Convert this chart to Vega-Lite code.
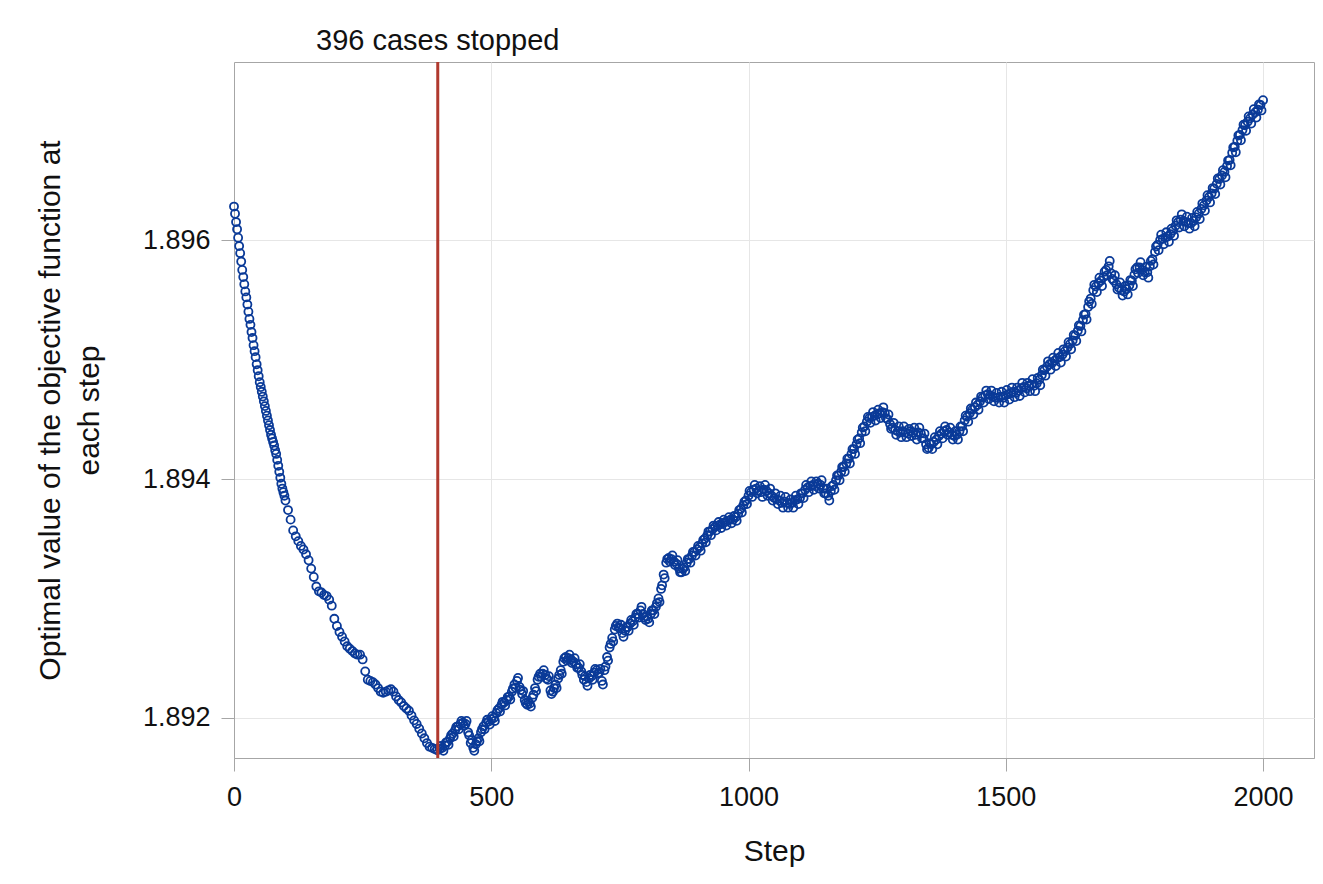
{
  "$schema": "https://vega.github.io/schema/vega-lite/v6.json",
  "autosize": {"type": "none"},
  "padding": {"left": 234, "top": 62, "right": 9, "bottom": 126},
  "width": 1080,
  "height": 696,
  "background": "white",
  "config": {
    "font": "Liberation Sans",
    "view": {"stroke": "#a6a6a6", "strokeWidth": 1},
    "axis": {
      "labelFont": "Liberation Sans",
      "titleFont": "Liberation Sans",
      "labelFontSize": 27,
      "titleFontSize": 30,
      "titleFontWeight": "normal",
      "labelColor": "#111111",
      "titleColor": "#111111",
      "domainColor": "#a6a6a6",
      "tickColor": "#a6a6a6",
      "tickSize": 13,
      "gridColor": "#e6e6e6",
      "gridWidth": 1
    }
  },
  "datasets": {
    "steps": [
      {"s":0,"v":1.89628},{"s":2,"v":1.89622},{"s":4,"v":1.89615},{"s":6,"v":1.89609},{"s":8,"v":1.89602},{"s":10,"v":1.89595},{"s":12,"v":1.89589},{"s":14,"v":1.89582},{"s":16,"v":1.89575},{"s":18,"v":1.89569},
      {"s":20,"v":1.89563},{"s":22,"v":1.89557},{"s":24,"v":1.89552},{"s":26,"v":1.89546},{"s":28,"v":1.8954},{"s":30,"v":1.89534},{"s":32,"v":1.89529},{"s":34,"v":1.89523},{"s":36,"v":1.89518},{"s":38,"v":1.89512},
      {"s":40,"v":1.89507},{"s":42,"v":1.89502},{"s":44,"v":1.89496},{"s":46,"v":1.89491},{"s":48,"v":1.89486},{"s":50,"v":1.89481},{"s":52,"v":1.89477},{"s":54,"v":1.89473},{"s":56,"v":1.89469},{"s":58,"v":1.89465},
      {"s":60,"v":1.89461},{"s":62,"v":1.89457},{"s":64,"v":1.89453},{"s":66,"v":1.89449},{"s":68,"v":1.89445},{"s":70,"v":1.89441},{"s":72,"v":1.89437},{"s":74,"v":1.89434},{"s":76,"v":1.89431},{"s":78,"v":1.89428},
      {"s":80,"v":1.89424},{"s":82,"v":1.89421},{"s":84,"v":1.89416},{"s":86,"v":1.89411},{"s":88,"v":1.89406},{"s":90,"v":1.89401},{"s":92,"v":1.89396},{"s":94,"v":1.89392},{"s":96,"v":1.89389},{"s":98,"v":1.89386},
      {"s":100,"v":1.89382},{"s":105,"v":1.89374},{"s":110,"v":1.89366},{"s":115,"v":1.89357},{"s":120,"v":1.89352},{"s":125,"v":1.89348},{"s":130,"v":1.89344},{"s":135,"v":1.89341},{"s":140,"v":1.89337},{"s":145,"v":1.89332},
      {"s":150,"v":1.89325},{"s":155,"v":1.89318},{"s":160,"v":1.8931},{"s":165,"v":1.89306},{"s":170,"v":1.89305},{"s":175,"v":1.89303},{"s":180,"v":1.89302},{"s":185,"v":1.89299},{"s":190,"v":1.89294},{"s":195,"v":1.89283},
      {"s":200,"v":1.89277},{"s":205,"v":1.89272},{"s":210,"v":1.89268},{"s":215,"v":1.89264},{"s":220,"v":1.8926},{"s":225,"v":1.89258},{"s":230,"v":1.89256},{"s":235,"v":1.89254},{"s":240,"v":1.89253},{"s":245,"v":1.89253},
      {"s":250,"v":1.89249},{"s":255,"v":1.89239},{"s":260,"v":1.89232},{"s":265,"v":1.89231},{"s":270,"v":1.8923},{"s":275,"v":1.89228},{"s":280,"v":1.89225},{"s":285,"v":1.89222},{"s":290,"v":1.89221},{"s":295,"v":1.89222},
      {"s":300,"v":1.89223},{"s":305,"v":1.89224},{"s":310,"v":1.89222},{"s":315,"v":1.89218},{"s":320,"v":1.89215},{"s":325,"v":1.89213},{"s":330,"v":1.8921},{"s":335,"v":1.89208},{"s":340,"v":1.89206},{"s":345,"v":1.89202},
      {"s":350,"v":1.89198},{"s":355,"v":1.89195},{"s":360,"v":1.89191},{"s":365,"v":1.89187},{"s":370,"v":1.89183},{"s":375,"v":1.89179},{"s":380,"v":1.89176},{"s":385,"v":1.89175},{"s":390,"v":1.89174},{"s":395,"v":1.89173},
      {"s":400,"v":1.89174},{"s":405,"v":1.89175},{"s":410,"v":1.89177},{"s":415,"v":1.8918},{"s":420,"v":1.89183},{"s":425,"v":1.89187},{"s":430,"v":1.8919},{"s":435,"v":1.89193},{"s":440,"v":1.89195},{"s":445,"v":1.89196},
      {"s":450,"v":1.89195},{"s":455,"v":1.89188},{"s":460,"v":1.89179},{"s":465,"v":1.89175},{"s":470,"v":1.89178},{"s":475,"v":1.89183},{"s":480,"v":1.89188},{"s":485,"v":1.89193},{"s":490,"v":1.89196},{"s":495,"v":1.89197},
      {"s":500,"v":1.89199},{"s":505,"v":1.892},{"s":510,"v":1.89204},{"s":515,"v":1.89208},{"s":520,"v":1.89211},{"s":525,"v":1.89213},{"s":530,"v":1.89215},{"s":535,"v":1.89218},{"s":540,"v":1.89222},{"s":545,"v":1.89228},
      {"s":550,"v":1.89231},{"s":555,"v":1.89226},{"s":560,"v":1.8922},{"s":565,"v":1.89215},{"s":570,"v":1.89211},{"s":575,"v":1.89212},{"s":580,"v":1.89217},{"s":585,"v":1.89225},{"s":590,"v":1.89232},{"s":595,"v":1.89237},
      {"s":600,"v":1.89237},{"s":605,"v":1.89236},{"s":610,"v":1.89232},{"s":615,"v":1.89223},{"s":620,"v":1.89222},{"s":625,"v":1.89228},{"s":630,"v":1.89233},{"s":635,"v":1.8924},{"s":640,"v":1.89247},{"s":645,"v":1.89251},
      {"s":650,"v":1.8925},{"s":655,"v":1.89249},{"s":660,"v":1.89247},{"s":665,"v":1.89245},{"s":670,"v":1.89242},{"s":675,"v":1.89239},{"s":680,"v":1.89232},{"s":685,"v":1.8923},{"s":690,"v":1.89233},{"s":695,"v":1.89235},
      {"s":700,"v":1.89238},{"s":705,"v":1.8924},{"s":710,"v":1.89238},{"s":715,"v":1.89231},{"s":720,"v":1.8924},{"s":725,"v":1.89251},{"s":730,"v":1.89259},{"s":735,"v":1.89267},{"s":740,"v":1.89274},{"s":745,"v":1.89279},
      {"s":750,"v":1.89275},{"s":755,"v":1.89271},{"s":760,"v":1.89273},{"s":765,"v":1.89276},{"s":770,"v":1.89279},{"s":775,"v":1.89281},{"s":780,"v":1.89284},{"s":785,"v":1.89287},{"s":790,"v":1.8929},{"s":795,"v":1.89287},
      {"s":800,"v":1.89282},{"s":805,"v":1.89283},{"s":810,"v":1.89287},{"s":815,"v":1.8929},{"s":820,"v":1.89293},{"s":825,"v":1.893},{"s":830,"v":1.89308},{"s":835,"v":1.8932},{"s":840,"v":1.8933},{"s":845,"v":1.89334},
      {"s":850,"v":1.89333},{"s":855,"v":1.89331},{"s":860,"v":1.89329},{"s":865,"v":1.89325},{"s":870,"v":1.89322},{"s":875,"v":1.89326},{"s":880,"v":1.8933},{"s":885,"v":1.89333},{"s":890,"v":1.89336},{"s":895,"v":1.89339},
      {"s":900,"v":1.89341},{"s":905,"v":1.89343},{"s":910,"v":1.89346},{"s":915,"v":1.8935},{"s":920,"v":1.89353},{"s":925,"v":1.89356},{"s":930,"v":1.89358},{"s":935,"v":1.8936},{"s":940,"v":1.89361},{"s":945,"v":1.89362},
      {"s":950,"v":1.89363},{"s":955,"v":1.89364},{"s":960,"v":1.89365},{"s":965,"v":1.89366},{"s":970,"v":1.89366},{"s":975,"v":1.89368},{"s":980,"v":1.89371},{"s":985,"v":1.89375},{"s":990,"v":1.89378},{"s":995,"v":1.89382},
      {"s":1000,"v":1.89386},{"s":1005,"v":1.89389},{"s":1010,"v":1.89391},{"s":1015,"v":1.89392},{"s":1020,"v":1.8939},{"s":1025,"v":1.89389},{"s":1030,"v":1.89391},{"s":1035,"v":1.8939},{"s":1040,"v":1.89388},{"s":1045,"v":1.89386},
      {"s":1050,"v":1.89384},{"s":1055,"v":1.89383},{"s":1060,"v":1.89382},{"s":1065,"v":1.8938},{"s":1070,"v":1.89381},{"s":1075,"v":1.8938},{"s":1080,"v":1.89379},{"s":1085,"v":1.8938},{"s":1090,"v":1.89382},{"s":1095,"v":1.89383},
      {"s":1100,"v":1.89384},{"s":1105,"v":1.89388},{"s":1110,"v":1.89391},{"s":1115,"v":1.89393},{"s":1120,"v":1.89394},{"s":1125,"v":1.89395},{"s":1130,"v":1.89394},{"s":1135,"v":1.89396},{"s":1140,"v":1.89395},{"s":1145,"v":1.89392},
      {"s":1150,"v":1.89388},{"s":1155,"v":1.89386},{"s":1160,"v":1.8939},{"s":1165,"v":1.89395},{"s":1170,"v":1.89399},{"s":1175,"v":1.89403},{"s":1180,"v":1.89406},{"s":1185,"v":1.8941},{"s":1190,"v":1.89413},{"s":1195,"v":1.89417},
      {"s":1200,"v":1.89421},{"s":1205,"v":1.89425},{"s":1210,"v":1.89429},{"s":1215,"v":1.89434},{"s":1220,"v":1.89439},{"s":1225,"v":1.89444},{"s":1230,"v":1.89448},{"s":1235,"v":1.89451},{"s":1240,"v":1.89452},{"s":1245,"v":1.89453},
      {"s":1250,"v":1.89454},{"s":1255,"v":1.89455},{"s":1260,"v":1.89456},{"s":1265,"v":1.89455},{"s":1270,"v":1.8945},{"s":1275,"v":1.89446},{"s":1280,"v":1.89443},{"s":1285,"v":1.89441},{"s":1290,"v":1.8944},{"s":1295,"v":1.89439},
      {"s":1300,"v":1.8944},{"s":1305,"v":1.89439},{"s":1310,"v":1.89438},{"s":1315,"v":1.8944},{"s":1320,"v":1.89439},{"s":1325,"v":1.89437},{"s":1330,"v":1.89439},{"s":1335,"v":1.89438},{"s":1340,"v":1.89434},{"s":1345,"v":1.89429},
      {"s":1350,"v":1.89426},{"s":1355,"v":1.89429},{"s":1360,"v":1.89431},{"s":1365,"v":1.89433},{"s":1370,"v":1.89436},{"s":1375,"v":1.89438},{"s":1380,"v":1.8944},{"s":1385,"v":1.89441},{"s":1390,"v":1.89439},{"s":1395,"v":1.89437},
      {"s":1400,"v":1.89436},{"s":1405,"v":1.89437},{"s":1410,"v":1.8944},{"s":1415,"v":1.89444},{"s":1420,"v":1.89449},{"s":1425,"v":1.89452},{"s":1430,"v":1.89455},{"s":1435,"v":1.89458},{"s":1440,"v":1.8946},{"s":1445,"v":1.89462},
      {"s":1450,"v":1.89465},{"s":1455,"v":1.89468},{"s":1460,"v":1.8947},{"s":1465,"v":1.89471},{"s":1470,"v":1.8947},{"s":1475,"v":1.89469},{"s":1480,"v":1.89468},{"s":1485,"v":1.89468},{"s":1490,"v":1.89469},{"s":1495,"v":1.89468},
      {"s":1500,"v":1.8947},{"s":1505,"v":1.89471},{"s":1510,"v":1.89472},{"s":1515,"v":1.89473},{"s":1520,"v":1.89472},{"s":1525,"v":1.89474},{"s":1530,"v":1.89476},{"s":1535,"v":1.89477},{"s":1540,"v":1.89476},{"s":1545,"v":1.89478},
      {"s":1550,"v":1.89479},{"s":1555,"v":1.89478},{"s":1560,"v":1.8948},{"s":1565,"v":1.89483},{"s":1570,"v":1.89487},{"s":1575,"v":1.89491},{"s":1580,"v":1.89494},{"s":1585,"v":1.89496},{"s":1590,"v":1.89497},{"s":1595,"v":1.89499},
      {"s":1600,"v":1.89501},{"s":1605,"v":1.89502},{"s":1610,"v":1.89504},{"s":1615,"v":1.89507},{"s":1620,"v":1.8951},{"s":1625,"v":1.89513},{"s":1630,"v":1.89516},{"s":1635,"v":1.8952},{"s":1640,"v":1.89524},{"s":1645,"v":1.89528},
      {"s":1650,"v":1.89533},{"s":1655,"v":1.89538},{"s":1660,"v":1.89544},{"s":1665,"v":1.89551},{"s":1670,"v":1.89558},{"s":1675,"v":1.89561},{"s":1680,"v":1.89564},{"s":1685,"v":1.89566},{"s":1690,"v":1.89569},{"s":1695,"v":1.89575},
      {"s":1700,"v":1.89578},{"s":1705,"v":1.89572},{"s":1710,"v":1.89566},{"s":1715,"v":1.89563},{"s":1720,"v":1.8956},{"s":1725,"v":1.89558},{"s":1730,"v":1.89557},{"s":1735,"v":1.89559},{"s":1740,"v":1.89562},{"s":1745,"v":1.89566},
      {"s":1750,"v":1.89571},{"s":1755,"v":1.89577},{"s":1760,"v":1.89577},{"s":1765,"v":1.89575},{"s":1770,"v":1.89573},{"s":1775,"v":1.89573},{"s":1780,"v":1.89578},{"s":1785,"v":1.89584},{"s":1790,"v":1.8959},{"s":1795,"v":1.89596},
      {"s":1800,"v":1.896},{"s":1805,"v":1.89601},{"s":1810,"v":1.89602},{"s":1815,"v":1.89603},{"s":1820,"v":1.89605},{"s":1825,"v":1.89608},{"s":1830,"v":1.89612},{"s":1835,"v":1.89615},{"s":1840,"v":1.89617},{"s":1845,"v":1.89616},
      {"s":1850,"v":1.89615},{"s":1855,"v":1.89614},{"s":1860,"v":1.89614},{"s":1865,"v":1.89616},{"s":1870,"v":1.89619},{"s":1875,"v":1.89622},{"s":1880,"v":1.89626},{"s":1885,"v":1.89629},{"s":1890,"v":1.89633},{"s":1895,"v":1.89636},
      {"s":1900,"v":1.89639},{"s":1905,"v":1.89643},{"s":1910,"v":1.89647},{"s":1915,"v":1.89651},{"s":1920,"v":1.89654},{"s":1925,"v":1.89657},{"s":1930,"v":1.89662},{"s":1935,"v":1.89667},{"s":1940,"v":1.89673},{"s":1945,"v":1.89678},
      {"s":1950,"v":1.89683},{"s":1955,"v":1.89688},{"s":1960,"v":1.89692},{"s":1965,"v":1.89696},{"s":1970,"v":1.89699},{"s":1975,"v":1.89702},{"s":1980,"v":1.89705},{"s":1985,"v":1.89707},{"s":1990,"v":1.89709},{"s":1995,"v":1.89713},
      {"s":2000,"v":1.89717},
      {"s":402,"v":1.891765},{"s":407,"v":1.891725},{"s":412,"v":1.891795},{"s":417,"v":1.891775},{"s":422,"v":1.891855},{"s":427,"v":1.891845},{"s":432,"v":1.891925},{"s":437,"v":1.891905},{"s":442,"v":1.891975},{"s":447,"v":1.891935},
      {"s":452,"v":1.891975},{"s":457,"v":1.891855},{"s":462,"v":1.891815},{"s":467,"v":1.891725},{"s":472,"v":1.891805},{"s":477,"v":1.891805},{"s":482,"v":1.891905},{"s":487,"v":1.891905},{"s":492,"v":1.891985},{"s":497,"v":1.891945},
      {"s":502,"v":1.892015},{"s":507,"v":1.891975},{"s":512,"v":1.892065},{"s":517,"v":1.892055},{"s":522,"v":1.892135},{"s":527,"v":1.892105},{"s":532,"v":1.892175},{"s":537,"v":1.892155},{"s":542,"v":1.892245},{"s":547,"v":1.892255},
      {"s":552,"v":1.892335},{"s":557,"v":1.892235},{"s":562,"v":1.892225},{"s":567,"v":1.892125},{"s":572,"v":1.892135},{"s":577,"v":1.892095},{"s":582,"v":1.892195},{"s":587,"v":1.892225},{"s":592,"v":1.892345},{"s":597,"v":1.892345},
      {"s":602,"v":1.8924},{"s":607,"v":1.89233},{"s":612,"v":1.89235},{"s":617,"v":1.8922},{"s":622,"v":1.89225},{"s":627,"v":1.89225},{"s":632,"v":1.89236},{"s":637,"v":1.89237},{"s":642,"v":1.8925},{"s":647,"v":1.89248},
      {"s":652,"v":1.89253},{"s":657,"v":1.89246},{"s":662,"v":1.8925},{"s":667,"v":1.89242},{"s":672,"v":1.89245},{"s":677,"v":1.89236},{"s":682,"v":1.89235},{"s":687,"v":1.89227},{"s":692,"v":1.89236},{"s":697,"v":1.89232},
      {"s":702,"v":1.89241},{"s":707,"v":1.89237},{"s":712,"v":1.89241},{"s":717,"v":1.89228},{"s":722,"v":1.89243},{"s":727,"v":1.89248},{"s":732,"v":1.89262},{"s":737,"v":1.89264},{"s":742,"v":1.89277},{"s":747,"v":1.89276},
      {"s":752,"v":1.89278},{"s":757,"v":1.89268},{"s":762,"v":1.89276},{"s":767,"v":1.89273},{"s":772,"v":1.89282},{"s":777,"v":1.89278},{"s":782,"v":1.89287},{"s":787,"v":1.89284},{"s":792,"v":1.89293},{"s":797,"v":1.89284},
      {"s":802,"v":1.89285},{"s":807,"v":1.8928},{"s":812,"v":1.8929},{"s":817,"v":1.89287},{"s":822,"v":1.89296},{"s":827,"v":1.89297},{"s":832,"v":1.89311},{"s":837,"v":1.89317},{"s":842,"v":1.89333},{"s":847,"v":1.89331},
      {"s":852,"v":1.89336},{"s":857,"v":1.89328},{"s":862,"v":1.89332},{"s":867,"v":1.89322},{"s":872,"v":1.89325},{"s":877,"v":1.89323},{"s":882,"v":1.89333},{"s":887,"v":1.8933},{"s":892,"v":1.89339},{"s":897,"v":1.89336},
      {"s":902,"v":1.89344},{"s":907,"v":1.8934},{"s":912,"v":1.89349},{"s":917,"v":1.89347},{"s":922,"v":1.89356},{"s":927,"v":1.89353},{"s":932,"v":1.89361},{"s":937,"v":1.89357},{"s":942,"v":1.89364},{"s":947,"v":1.89359},
      {"s":952,"v":1.89366},{"s":957,"v":1.89361},{"s":962,"v":1.89368},{"s":967,"v":1.89363},{"s":972,"v":1.89369},{"s":977,"v":1.89365},{"s":982,"v":1.89374},{"s":987,"v":1.89372},{"s":992,"v":1.89381},{"s":997,"v":1.89379},
      {"s":1002,"v":1.8939},{"s":1007,"v":1.89385},{"s":1012,"v":1.89395},{"s":1017,"v":1.89388},{"s":1022,"v":1.89394},{"s":1027,"v":1.89385},{"s":1032,"v":1.89395},{"s":1037,"v":1.89386},{"s":1042,"v":1.89392},{"s":1047,"v":1.89382},
      {"s":1052,"v":1.89388},{"s":1057,"v":1.89379},{"s":1062,"v":1.89386},{"s":1067,"v":1.89376},{"s":1072,"v":1.89385},{"s":1077,"v":1.89376},{"s":1082,"v":1.89383},{"s":1087,"v":1.89376},{"s":1092,"v":1.89386},{"s":1097,"v":1.89379},
      {"s":1102,"v":1.89388},{"s":1107,"v":1.89384},{"s":1112,"v":1.89395},{"s":1117,"v":1.89389},{"s":1122,"v":1.89398},{"s":1127,"v":1.89391},{"s":1132,"v":1.89398},{"s":1137,"v":1.89392},{"s":1142,"v":1.89399},{"s":1147,"v":1.89388},
      {"s":1152,"v":1.89392},{"s":1157,"v":1.89382},{"s":1162,"v":1.89394},{"s":1167,"v":1.89391},{"s":1172,"v":1.89403},{"s":1177,"v":1.89399},{"s":1182,"v":1.8941},{"s":1187,"v":1.89406},{"s":1192,"v":1.89417},{"s":1197,"v":1.89413},
      {"s":1202,"v":1.89425},{"s":1207,"v":1.89421},{"s":1212,"v":1.89433},{"s":1217,"v":1.8943},{"s":1222,"v":1.89443},{"s":1227,"v":1.8944},{"s":1232,"v":1.89452},{"s":1237,"v":1.89447},{"s":1242,"v":1.89456},{"s":1247,"v":1.89449},
      {"s":1252,"v":1.89458},{"s":1257,"v":1.89451},{"s":1262,"v":1.8946},{"s":1267,"v":1.89451},{"s":1272,"v":1.89454},{"s":1277,"v":1.89442},{"s":1282,"v":1.89447},{"s":1287,"v":1.89437},{"s":1292,"v":1.89444},{"s":1297,"v":1.89435},
      {"s":1302,"v":1.89444},{"s":1307,"v":1.89435},{"s":1312,"v":1.89442},{"s":1317,"v":1.89436},{"s":1322,"v":1.89443},{"s":1327,"v":1.89433},{"s":1332,"v":1.89443},{"s":1337,"v":1.89434},{"s":1342,"v":1.89438},{"s":1347,"v":1.89425},
      {"s":1352,"v":1.8943},{"s":1357,"v":1.89425},{"s":1362,"v":1.89435},{"s":1367,"v":1.89429},{"s":1372,"v":1.8944},{"s":1377,"v":1.89434},{"s":1382,"v":1.89444},{"s":1387,"v":1.89437},{"s":1392,"v":1.89443},{"s":1397,"v":1.89433},
      {"s":1402,"v":1.8944},{"s":1407,"v":1.89433},{"s":1412,"v":1.89444},{"s":1417,"v":1.8944},{"s":1422,"v":1.89453},{"s":1427,"v":1.89448},{"s":1432,"v":1.89459},{"s":1437,"v":1.89454},{"s":1442,"v":1.89464},{"s":1447,"v":1.89458},
      {"s":1452,"v":1.89469},{"s":1457,"v":1.89464},{"s":1462,"v":1.89474},{"s":1467,"v":1.89467},{"s":1472,"v":1.89474},{"s":1477,"v":1.89465},{"s":1482,"v":1.89472},{"s":1487,"v":1.89464},{"s":1492,"v":1.89473},{"s":1497,"v":1.89464},
      {"s":1502,"v":1.894745},{"s":1507,"v":1.894665},{"s":1512,"v":1.894765},{"s":1517,"v":1.894685},{"s":1522,"v":1.894765},{"s":1527,"v":1.894695},{"s":1532,"v":1.894805},{"s":1537,"v":1.894725},{"s":1542,"v":1.894805},{"s":1547,"v":1.894735},
      {"s":1552,"v":1.894835},{"s":1557,"v":1.894735},{"s":1562,"v":1.894845},{"s":1567,"v":1.894785},{"s":1572,"v":1.894915},{"s":1577,"v":1.894865},{"s":1582,"v":1.894985},{"s":1587,"v":1.894915},{"s":1592,"v":1.895015},{"s":1597,"v":1.894945},
      {"s":1602,"v":1.895055},{"s":1607,"v":1.894975},{"s":1612,"v":1.895085},{"s":1617,"v":1.895025},{"s":1622,"v":1.895145},{"s":1627,"v":1.895085},{"s":1632,"v":1.895205},{"s":1637,"v":1.895155},{"s":1642,"v":1.895285},{"s":1647,"v":1.895235},
      {"s":1652,"v":1.895375},{"s":1657,"v":1.895335},{"s":1662,"v":1.895485},{"s":1667,"v":1.895465},{"s":1672,"v":1.895625},{"s":1677,"v":1.895565},{"s":1682,"v":1.895685},{"s":1687,"v":1.895615},{"s":1692,"v":1.895735},{"s":1697,"v":1.895705},
      {"s":1702,"v":1.895825},{"s":1707,"v":1.895675},{"s":1712,"v":1.895705},{"s":1717,"v":1.895585},{"s":1722,"v":1.895645},{"s":1727,"v":1.895535},{"s":1732,"v":1.895615},{"s":1737,"v":1.895545},{"s":1742,"v":1.895665},{"s":1747,"v":1.895615},
      {"s":1752,"v":1.895755},{"s":1757,"v":1.895725},{"s":1762,"v":1.895815},{"s":1767,"v":1.895705},{"s":1772,"v":1.895775},{"s":1777,"v":1.895685},{"s":1782,"v":1.895825},{"s":1787,"v":1.895795},{"s":1792,"v":1.895945},{"s":1797,"v":1.895915},
      {"s":1802,"v":1.896045},{"s":1807,"v":1.895965},{"s":1812,"v":1.896065},{"s":1817,"v":1.895985},{"s":1822,"v":1.896095},{"s":1827,"v":1.896035},{"s":1832,"v":1.896165},{"s":1837,"v":1.896105},{"s":1842,"v":1.896215},{"s":1847,"v":1.896115},
      {"s":1852,"v":1.896195},{"s":1857,"v":1.896095},{"s":1862,"v":1.896185},{"s":1867,"v":1.896115},{"s":1872,"v":1.896235},{"s":1877,"v":1.896175},{"s":1882,"v":1.896305},{"s":1887,"v":1.896245},{"s":1892,"v":1.896375},{"s":1897,"v":1.896315},
      {"s":1902,"v":1.896435},{"s":1907,"v":1.896385},{"s":1912,"v":1.896515},{"s":1917,"v":1.896465},{"s":1922,"v":1.896585},{"s":1927,"v":1.896525},{"s":1932,"v":1.896665},{"s":1937,"v":1.896625},{"s":1942,"v":1.896775},{"s":1947,"v":1.896735},
      {"s":1952,"v":1.896875},{"s":1957,"v":1.896835},{"s":1962,"v":1.896965},{"s":1967,"v":1.896915},{"s":1972,"v":1.897035},{"s":1977,"v":1.896975},{"s":1982,"v":1.897095},{"s":1987,"v":1.897025},{"s":1992,"v":1.897135},{"s":1997,"v":1.897085}
    ]
  },
  "layer": [
    {
      "data": {"name": "steps"},
      "mark": {"type": "point", "shape": "circle", "filled": false, "size": 65, "strokeWidth": 1.8, "color": "#0a3a98", "opacity": 1},
      "encoding": {
        "x": {
          "field": "s", "type": "quantitative",
          "scale": {"domain": [0, 2099], "nice": false, "zero": false},
          "axis": {"title": "Step", "values": [0, 500, 1000, 1500, 2000], "format": "d", "labelPadding": 13, "titlePadding": 26, "labelFlush": false}
        },
        "y": {
          "field": "v", "type": "quantitative",
          "scale": {"domain": [1.891665, 1.89749], "nice": false, "zero": false},
          "axis": {"title": ["Optimal value of the objective function at", "each step"], "values": [1.892, 1.894, 1.896], "format": ".3f", "labelPadding": 11, "titlePadding": 38, "titleLineHeight": 39}
        }
      }
    },
    {
      "data": {"values": [{"x": 396, "label": "396 cases stopped"}]},
      "layer": [
        {
          "mark": {"type": "rule", "color": "#b0392e", "strokeWidth": 3},
          "encoding": {"x": {"field": "x", "type": "quantitative"}}
        },
        {
          "mark": {"type": "text", "fontSize": 29, "font": "Liberation Sans", "color": "#111111", "align": "center", "baseline": "alphabetic", "dy": -12},
          "encoding": {
            "x": {"field": "x", "type": "quantitative"},
            "y": {"datum": 1.89749, "type": "quantitative"},
            "text": {"field": "label"}
          }
        }
      ]
    }
  ]
}
